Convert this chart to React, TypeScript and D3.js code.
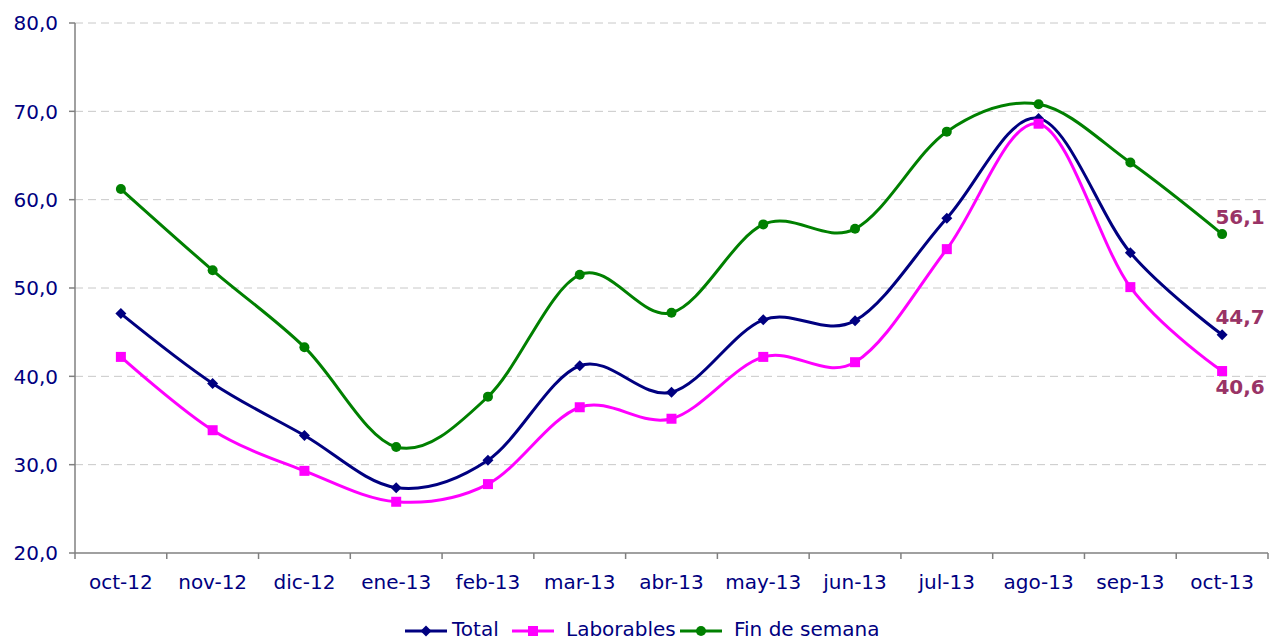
import React, { useEffect } from 'react'
import * as d3 from 'd3'

const categories = ['oct-12', 'nov-12', 'dic-12', 'ene-13', 'feb-13', 'mar-13', 'abr-13', 'may-13', 'jun-13', 'jul-13', 'ago-13', 'sep-13', 'oct-13']
const total = [47.1, 39.2, 33.3, 27.4, 30.5, 41.2, 38.2, 46.4, 46.3, 57.9, 69.2, 54.0, 44.7]
const laborables = [42.2, 33.9, 29.3, 25.8, 27.8, 36.5, 35.2, 42.2, 41.6, 54.4, 68.6, 50.1, 40.6]
const finDeSemana = [61.2, 52.0, 43.3, 32.0, 37.7, 51.5, 47.2, 57.2, 56.7, 67.7, 70.8, 64.2, 56.1]
const yTicks = [20, 30, 40, 50, 60, 70, 80]

const W = 1269, H = 641
const left = 75, right = 1268, top = 23, bottom = 553
const NAVY = '#000080'
const fmt = (v: number) => v.toFixed(1).replace('.', ',')

const series = [
  { name: 'Total', values: total, color: '#000080', marker: 'diamond', labelDy: -11 },
  { name: 'Laborables', values: laborables, color: '#FF00FF', marker: 'square', labelDy: 23 },
  { name: 'Fin de semana', values: finDeSemana, color: '#008000', marker: 'circle', labelDy: -10 },
]

function Marker({ type, x, y, color }: { type: string; x: number; y: number; color: string }) {
  if (type === 'diamond') return <path d={`M${x},${y - 5.5}L${x + 5.5},${y}L${x},${y + 5.5}L${x - 5.5},${y}Z`} fill={color} />
  if (type === 'square') return <rect x={x - 5} y={y - 5} width={10} height={10} fill={color} />
  return <circle cx={x} cy={y} r={5} fill={color} />
}

export default function App() {
  useEffect(() => { document.body.style.margin = '0' }, [])

  const x = d3.scaleBand().domain(categories).range([left, right]).padding(0)
  const cx = (c: string) => (x(c) as number) + x.bandwidth() / 2
  const y = d3.scaleLinear().domain([20, 80]).range([bottom, top])
  const line = d3.line<number>().x((_, i) => cx(categories[i])).y(d => y(d)).curve(d3.curveCardinal.tension(0))

  // legend: line start / text start
  const legendItems = [
    { s: series[0], lx: 405, tx: 452 },
    { s: series[1], lx: 512, tx: 566 },
    { s: series[2], lx: 680, tx: 734 },
  ]

  return (
    <svg width={W} height={H} style={{ display: 'block', fontFamily: 'DejaVu Sans, Verdana, sans-serif' }}>
      <rect width={W} height={H} fill="#fff" />
      {yTicks.filter(t => t > 20).map(t => (
        <line key={t} x1={left} x2={right} y1={y(t)} y2={y(t)} stroke="#c8c8c8" strokeDasharray="8,5" />
      ))}
      <line x1={left} x2={left} y1={top} y2={bottom} stroke="#808080" strokeWidth={1.5} />
      <line x1={left} x2={right} y1={bottom} y2={bottom} stroke="#808080" strokeWidth={1.5} />
      {yTicks.map(t => (
        <g key={t}>
          <line x1={left - 6} x2={left} y1={y(t)} y2={y(t)} stroke="#808080" strokeWidth={1.5} />
          <text x={58} y={y(t)} dy="0.36em" textAnchor="end" fontSize={20} fill={NAVY}>{fmt(t)}</text>
        </g>
      ))}
      {[...categories.map(c => x(c) as number), right].map((p, i) => (
        <line key={i} x1={p} x2={p} y1={bottom} y2={bottom + 6} stroke="#808080" strokeWidth={1.5} />
      ))}
      {categories.map(c => (
        <text key={c} x={cx(c)} y={589} textAnchor="middle" fontSize={20} fill={NAVY}>{c}</text>
      ))}
      {series.map(s => (
        <g key={s.name}>
          <path d={line(s.values) || ''} fill="none" stroke={s.color} strokeWidth={3} strokeLinejoin="round" />
          {s.values.map((v, i) => <Marker key={i} type={s.marker} x={cx(categories[i])} y={y(v)} color={s.color} />)}
          <text x={cx(categories[categories.length - 1]) + 18} y={y(s.values[s.values.length - 1]) + s.labelDy}
            textAnchor="middle" fontSize={20} fontWeight="bold" fill="#993366">{fmt(s.values[s.values.length - 1])}</text>
        </g>
      ))}
      {legendItems.map(({ s, lx, tx }) => (
        <g key={s.name}>
          <line x1={lx} x2={lx + 42} y1={631} y2={631} stroke={s.color} strokeWidth={3} />
          <Marker type={s.marker} x={lx + 21} y={631} color={s.color} />
          <text x={tx} y={636} fontSize={20} fill={NAVY}>{s.name}</text>
        </g>
      ))}
    </svg>
  )
}
